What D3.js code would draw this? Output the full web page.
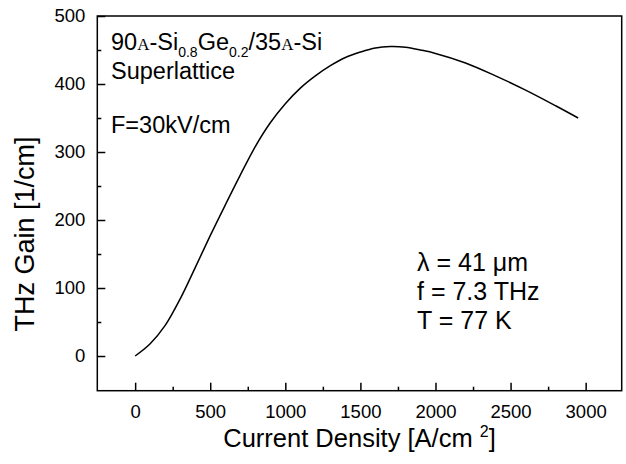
<!DOCTYPE html>
<html><head><meta charset="utf-8">
<script src="https://cdn.jsdelivr.net/npm/d3@7/dist/d3.min.js"></script>
<style>body{margin:0;background:#fff;} svg{display:block;} text{font-family:"Liberation Sans",Arial,sans-serif;fill:#000;}</style>
</head><body>
<svg id="c" width="626" height="464"></svg>
<script>
const currentDensity = [0,100,200,300,400,500,600,700,800,900,1000,1100,1200,1300,1400,1500,1600,1700,1800,1900,2000,2200,2400,2600,2800,2950];
const gain = [0,18,45,84,130,177,222,266,308,343,371,394,412,427,439,447,453,455,454,450,445,431,412,391,368,350];
const xMajorTicks = [0,500,1000,1500,2000,2500,3000];
const xMinorTicks = [250,750,1250,1750,2250,2750];
const yMajorTicks = [0,100,200,300,400,500];
const yMinorTicks = [50,150,250,350,450];

const svg = d3.select("#c");
const L = 97.3, R = 621.7, T = 16, B = 390.7;
const x = d3.scaleLinear().domain([-252, 3240]).range([L, R]);
const y = d3.scaleLinear().domain([-51, 500]).range([B, T]);

const yAxisMaj = d3.axisLeft(y).tickValues(yMajorTicks).tickSize(-8).tickPadding(12).tickFormat(d3.format("d"));
const yAxisMin = d3.axisLeft(y).tickValues(yMinorTicks).tickSize(-4).tickFormat("");
const xAxisMaj = d3.axisBottom(x).tickValues(xMajorTicks).tickSize(-8).tickPadding(14).tickFormat(d3.format("d"));
const xAxisMin = d3.axisBottom(x).tickValues(xMinorTicks).tickSize(-4).tickFormat("");

function style(g){
  g.select(".domain").remove();
  g.selectAll("line").attr("stroke","#000").attr("stroke-width",1.5);
  g.selectAll("text").style("font-size","18.5px").attr("fill","#000");
}
svg.append("g").attr("transform",`translate(${L},0)`).call(yAxisMaj).call(style);
svg.append("g").attr("transform",`translate(${L},0)`).call(yAxisMin).call(style);
svg.append("g").attr("transform",`translate(0,${B})`).call(xAxisMaj).call(style);
svg.append("g").attr("transform",`translate(0,${B})`).call(xAxisMin).call(style);

svg.append("rect").attr("x",L).attr("y",T).attr("width",R-L).attr("height",B-T)
  .attr("fill","none").attr("stroke","#000").attr("stroke-width",1.5);

const line = d3.line().x((d,i)=>x(currentDensity[i])).y(d=>y(d)).curve(d3.curveCatmullRom);
svg.append("path").datum(gain).attr("d",line).attr("fill","none").attr("stroke","#000").attr("stroke-width",1.5);

const xt = svg.append("text").attr("x",(L+R)/2+0).attr("y",447).attr("text-anchor","middle").style("font-size","25.5px");
xt.append("tspan").text("Current Density [A/cm ");
xt.append("tspan").attr("dy",-10).style("font-size","16px").text("2");
xt.append("tspan").attr("dy",10).text("]");

svg.append("text").attr("transform","translate(34,234) rotate(-90)").attr("text-anchor","middle").style("font-size","27px").text("THz Gain [1/cm]");

const a1 = svg.append("text").attr("x",111).attr("y",50).style("font-size","23.5px");
a1.append("tspan").text("90");
a1.append("tspan").style("font-family","'Liberation Serif',serif").style("font-size","17px").text("A");
a1.append("tspan").text("-Si");
a1.append("tspan").attr("dy",7).style("font-size","14px").text("0.8");
a1.append("tspan").attr("dy",-7).text("Ge");
a1.append("tspan").attr("dy",7).style("font-size","14px").text("0.2");
a1.append("tspan").attr("dy",-7).text("/35");
a1.append("tspan").style("font-family","'Liberation Serif',serif").style("font-size","17px").text("A");
a1.append("tspan").text("-Si");
svg.append("text").attr("x",111).attr("y",79).style("font-size","23.5px").text("Superlattice");
svg.append("text").attr("x",111).attr("y",133).style("font-size","23.5px").text("F=30kV/cm");

svg.append("text").attr("x",417).attr("y",271).style("font-size","25px").text("\u03bb = 41 \u03bcm");
svg.append("text").attr("x",417).attr("y",300).style("font-size","25px").text("f = 7.3 THz");
svg.append("text").attr("x",417).attr("y",329).style("font-size","25px").text("T = 77 K");
</script>
</body></html>
